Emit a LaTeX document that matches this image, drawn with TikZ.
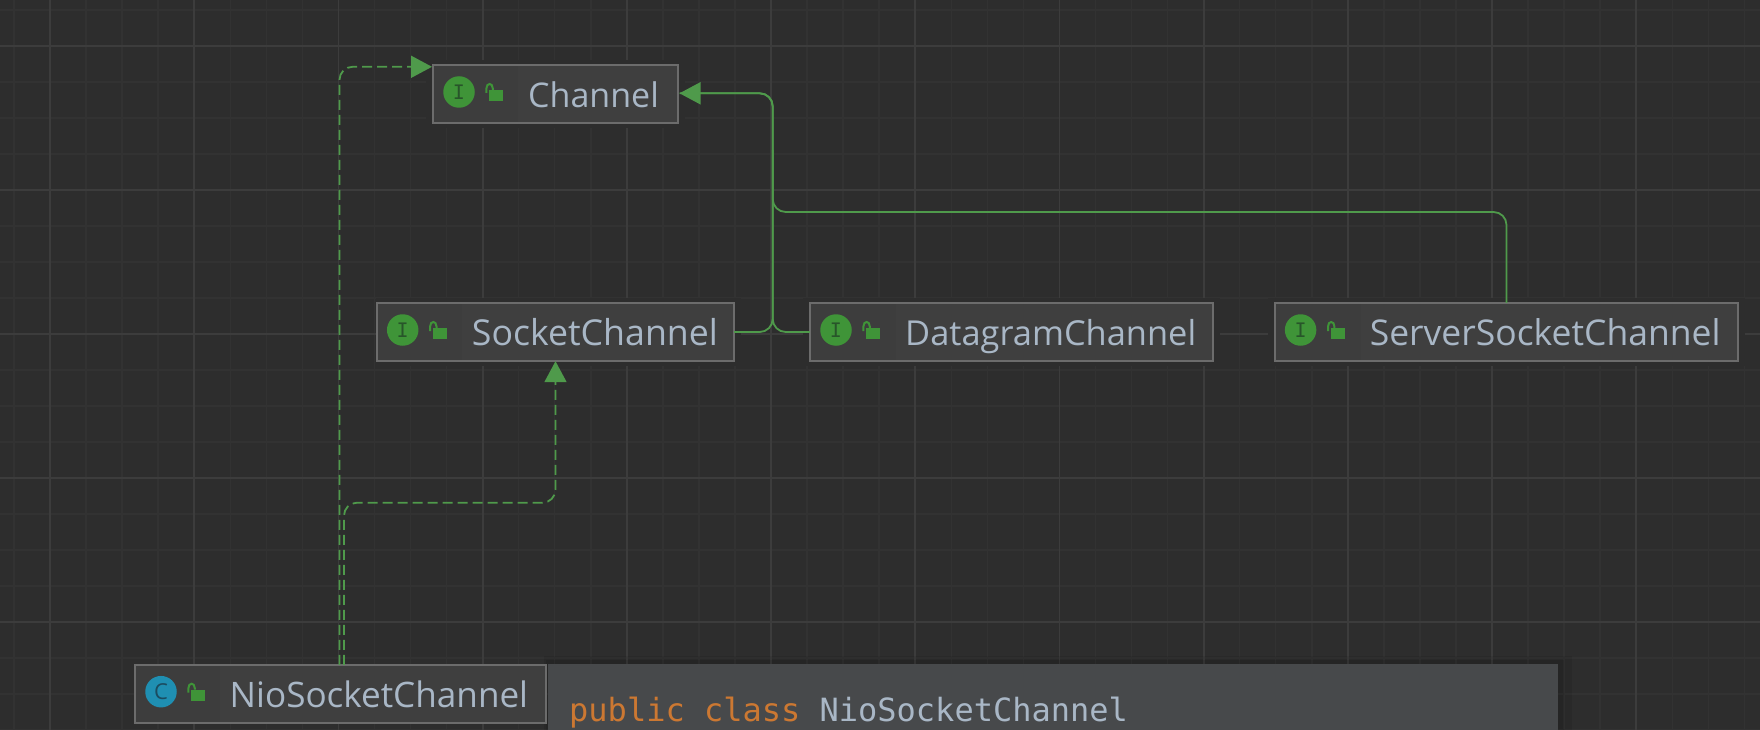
\documentclass[tikz,border=0pt]{standalone}
\usepackage{fontspec}
\setmainfont{Open Sans}
\newfontfamily\codefont{DejaVu Sans Mono}
\usetikzlibrary{arrows.meta,calc}
\definecolor{canvas}{HTML}{2D2D2D}
\definecolor{minorgrid}{HTML}{323232}
\definecolor{majorgrid}{HTML}{3C3C3C}
\definecolor{boxfill}{HTML}{3F3F3F}
\definecolor{cellfill}{HTML}{3D3D3D}
\definecolor{boxedge}{HTML}{6C6C6C}
\definecolor{labeltext}{HTML}{A9B7C6}
\definecolor{edgegreen}{HTML}{4F9A4B}
\definecolor{icongreen}{HTML}{3F9438}
\definecolor{iconmark}{HTML}{28552A}
\definecolor{iconteal}{HTML}{1F8FB2}
\definecolor{markteal}{HTML}{1B4C60}
\definecolor{popup}{HTML}{47494B}
\definecolor{keyword}{HTML}{CC7832}
\tikzset{
  umlbox/.style={draw=boxedge,fill=boxfill,line width=1.6pt,rectangle,inner sep=0pt,outer sep=0pt,anchor=north west},
  halo/.style={fill=canvas,draw=none},
  typename/.style={anchor=base west,inner sep=0pt,text=labeltext,font=\fontsize{#1}{38}\selectfont},
  iface/.style={circle,fill=icongreen,minimum size=31.5pt,inner sep=0pt,text=iconmark,font=\codefont\fontsize{20}{20}\selectfont},
  cls/.style={circle,fill=iconteal,minimum size=31.5pt,inner sep=0pt,text=markteal,font=\fontsize{22}{22}\selectfont},
  solidedge/.style={draw=edgegreen,line width=1.8pt,rounded corners=13pt},
  dashedge/.style={draw=edgegreen,line width=1.8pt,rounded corners=13pt,dash pattern=on 10pt off 5pt},
  tip/.style={-{Triangle[length=21pt,width=22pt,fill=edgegreen]}},
}
\newcommand{\lockat}[1]{%
  \fill[icongreen] ($(#1)+(30.2,-1.8)$) rectangle ($(#1)+(44,9)$);
  \draw[icongreen,line width=2pt] ($(#1)+(27.4,1)$) -- ($(#1)+(27.4,-3.5)$) .. controls ($(#1)+(27.4,-9.5)$) and ($(#1)+(33.8,-9.5)$) .. ($(#1)+(33.8,-3.5)$) -- ($(#1)+(33.8,-2)$);
}
\begin{document}
\begin{tikzpicture}[x=1pt,y=-1pt]
\useasboundingbox (0,0) rectangle (1760,730);
\clip (0,0) rectangle (1760,730);
\fill[canvas] (0,0) rectangle (1760,730);
% grid
\foreach \k in {-1,0,...,48} \draw[minorgrid,line width=1.5pt] ({50+36.05*\k},0) -- ({50+36.05*\k},730);
\foreach \g in {10,46,...,730} \draw[minorgrid,line width=1.5pt] (0,\g) -- (1760,\g);
\foreach \k in {0,...,11} \draw[majorgrid,line width=1.8pt] ({50+144.2*\k},0) -- ({50+144.2*\k},730);
\foreach \g in {46,190,...,730} \draw[majorgrid,line width=1.8pt] (0,\g) -- (1760,\g);
% halos
\fill[halo] (426,60) rectangle (685,128);
\fill[halo] (376,298) rectangle (741,366);
\fill[halo] (803,298) rectangle (1220,366);
\fill[halo] (1268,298) rectangle (1745,366);
% boxes
\node[umlbox,minimum width=245.4pt,minimum height=58.1pt] (channel) at (432.8,65.1) {};
\fill[cellfill] (433.6,65.9) rectangle (518,122.4);
\node[typename=34] (channellabel) at (528,107.5) {Channel};
\node[iface] (channelicon) at (459,92) {I};
\lockat{channelicon}
\node[umlbox,minimum width=357.4pt,minimum height=58.4pt] (socket) at (376.8,302.8) {};
\fill[cellfill] (377.6,303.6) rectangle (462,360.4);
\node[typename=35.7] (socketlabel) at (471.7,345.2) {SocketChannel};
\node[iface] (socketicon) at (402.7,330) {I};
\lockat{socketicon}
\node[umlbox,minimum width=403.4pt,minimum height=58.4pt] (datagram) at (809.8,302.8) {};
\fill[cellfill] (810.6,303.6) rectangle (896,360.4);
\node[typename=34.4] (datagramlabel) at (905,345.2) {DatagramChannel};
\node[iface] (datagramicon) at (836,330) {I};
\lockat{datagramicon}
\node[umlbox,minimum width=463.4pt,minimum height=58.4pt] (server) at (1274.8,302.8) {};
\fill[cellfill] (1275.6,303.6) rectangle (1361,360.4);
\node[typename=35.5] (serverlabel) at (1369.6,345.2) {ServerSocketChannel};
\node[iface] (servericon) at (1300.6,330) {I};
\lockat{servericon}
% connectors
\coordinate (spine) at (772.7,0);
\coordinate (chanin) at (679.5,93.3);
\coordinate (serverturn) at (0,212);
\coordinate (serverjoin) at (0,150);
\coordinate (dashA) at (339.5,0);
\coordinate (dashB) at (344,0);
\coordinate (dashAtop) at (0,66.8);
\coordinate (dashBtop) at (0,502.7);
\coordinate (channelin) at (432,66.8);
\draw[solidedge,tip] (socket.east) -- (spine |- socket.east) -- (spine |- chanin) -- (chanin);
\draw[solidedge] (datagram.west) -- (spine |- datagram.west) -- (spine |- chanin) -- (chanin);
\draw[solidedge] (server.north) -- (server.north |- serverturn) -- (spine |- serverturn) -- (spine |- serverjoin);
% class and popup
\fill[black,opacity=.07] (544,656) rectangle (1572,730);
\fill[black,opacity=.08] (546,660) rectangle (1564,730);
\node[umlbox,minimum width=411.4pt,minimum height=58.4pt] (nio) at (134.8,664.8) {};
\fill[cellfill] (135.6,665.6) rectangle (220,722.4);
\node[typename=35.1] (niolabel) at (229.5,707.5) {NioSocketChannel};
\node[cls] (nioicon) at (161,691.7) {C};
\lockat{nioicon}
\draw[dashedge,tip] (nio.north -| dashA) -- (dashA |- dashAtop) -- (channelin);
\draw[dashedge,tip] (nio.north -| dashB) -- (dashB |- dashBtop) -- (socket.south |- dashBtop) -- (socket.south);
\node[fill=popup,draw=none,inner sep=0pt,outer sep=0pt,anchor=north west,minimum width=1010pt,minimum height=70pt] (tooltip) at (548,664) {};
\node[anchor=base west,inner sep=0pt,font=\codefont\fontsize{32}{36}\selectfont,text=labeltext] (signature) at (569,721.5) {\textcolor{keyword}{public class} NioSocketChannel};
\end{tikzpicture}
\end{document}
